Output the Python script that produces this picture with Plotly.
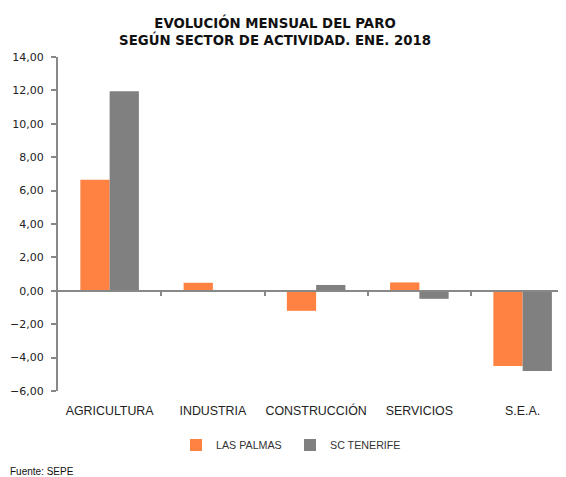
import plotly.graph_objects as go

categories = ["AGRICULTURA", "INDUSTRIA", "CONSTRUCCIÓN", "SERVICIOS", "S.E.A."]
las_palmas = [6.65, 0.48, -1.20, 0.50, -4.50]
sc_tenerife = [11.95, 0.0, 0.35, -0.48, -4.80]
y_ticks = [-6, -4, -2, 0, 2, 4, 6, 8, 10, 12, 14]

FONT = "DejaVu Sans"
ARIAL = "Liberation Sans"
ORANGE = "#FF8243"
GRAY = "#808080"

fig = go.Figure()
fig.add_trace(go.Bar(x=categories, y=las_palmas, name="LAS PALMAS",
                     marker=dict(color=ORANGE, line=dict(width=0))))
fig.add_trace(go.Bar(x=categories, y=sc_tenerife, name="SC TENERIFE",
                     marker=dict(color=GRAY, line=dict(width=0))))
# invisible helper so the zero-line category axis (x2) is rendered
fig.add_trace(go.Scatter(x=list(range(len(categories))), y=[None] * len(categories),
                         xaxis="x2", mode="markers", showlegend=False, hoverinfo="skip"))

ymin, ymax = -6, 14
zero_pos = (0 - ymin) / (ymax - ymin)

W, H = 558, 469
L, T, B = 50, 49, 86
PW = W - L

fig.update_layout(
    width=W, height=H,
    autosize=False,
    margin=dict(l=L, r=0, t=T, b=B, autoexpand=False),
    paper_bgcolor="white", plot_bgcolor="white",
    separators=",.",
    barmode="group", bargap=0.433, bargroupgap=0,
    font=dict(family=FONT, size=11, color="#222"),
    title=dict(text="<b>EVOLUCIÓN MENSUAL DEL PARO<br>SEGÚN SECTOR DE ACTIVIDAD. ENE. 2018</b>",
               x=267 / W, xanchor="center", yref="container", y=1 - 20 / H, yanchor="middle",
               font=dict(family=FONT, size=13.3, color="#111")),
    xaxis=dict(type="category", range=[-0.5, 4.42], showline=False, ticks="",
               showgrid=False, zeroline=False, automargin=False, ticklabelstandoff=11,
               tickfont=dict(family=ARIAL, size=12.4, color="#222")),
    xaxis2=dict(overlaying="x", anchor="free", position=zero_pos, range=[-0.5, 4.42],
                type="linear", showline=True, linecolor="#888", linewidth=2,
                tickvals=[0.5, 1.5, 2.5, 3.5], ticks="outside", ticklen=4,
                tickcolor="#888", tickwidth=2, showticklabels=False, showgrid=False,
                zeroline=False, side="bottom", automargin=False),
    yaxis=dict(range=[ymin, ymax], tickvals=y_ticks, tickformat=".2f",
               showline=True, linecolor="#888", linewidth=2,
               ticks="outside", ticklen=5, tickcolor="#888", tickwidth=2,
               showgrid=False, zeroline=True, zerolinecolor="#888", zerolinewidth=2,
               automargin=False, ticklabelstandoff=5,
               tickfont=dict(family=FONT, size=11, color="#222")),
    legend=dict(orientation="h", x=(168 - L) / PW, xanchor="left", y=-0.162, yanchor="middle",
                font=dict(family=ARIAL, size=10.7, color="#333"),
                itemwidth=30, entrywidth=69, traceorder="normal"),
    showlegend=True,
)

fig.add_annotation(text="Fuente: SEPE", xref="paper", yref="paper", x=-L / PW, y=0,
                   xanchor="left", yanchor="top", yshift=-73, showarrow=False,
                   font=dict(family=ARIAL, size=10, color="#111"))

fig.write_html("out.html")
